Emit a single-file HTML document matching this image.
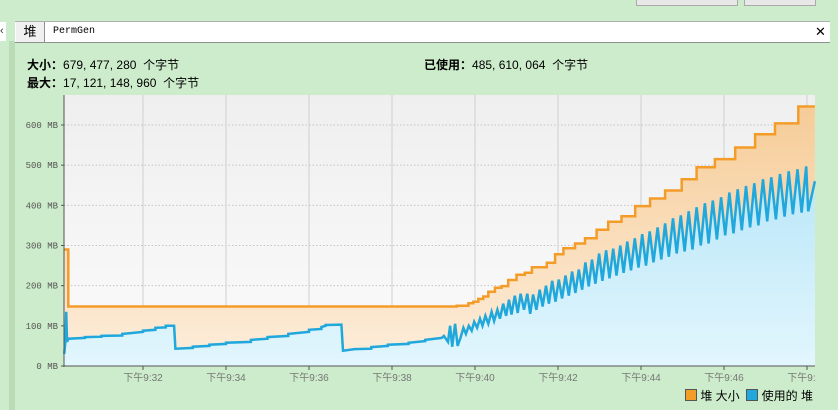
<!DOCTYPE html>
<html><head><meta charset="utf-8"><style>
body{margin:0;width:838px;height:410px;background:#cdeccb;position:relative;overflow:hidden;font-family:"Liberation Sans","Noto Sans CJK SC",sans-serif}
.abs{position:absolute}
</style></head><body>
<div class="abs" style="left:636px;top:0;width:100px;height:5px;background:#e8e8e8;border:1px solid #aaa;border-top:none"></div>
<div class="abs" style="left:744px;top:0;width:70px;height:5px;background:#e8e8e8;border:1px solid #aaa;border-top:none"></div>
<div class="abs" style="left:0;top:22px;width:6px;height:19px;background:#fff;font-size:11px;line-height:19px;color:#333">‹</div>
<div class="abs" style="left:9px;top:41px;width:6px;height:369px;background:#b9dcb6"></div>
<div class="abs" style="left:15px;top:21px;width:815px;height:20px;background:#fff;border-top:1px solid #b0b0b0;border-bottom:1px solid #909090"></div>
<div class="abs" style="left:16px;top:22px;width:28px;height:20px;background:#f0f0f0;border-right:1px solid #909090;font-size:13px;line-height:20px;text-align:center">堆</div>
<div class="abs" style="left:53px;top:22px;font-family:'Liberation Mono',monospace;font-size:10px;line-height:20px">PermGen</div>
<div class="abs" style="left:815px;top:22px;font-size:13px;line-height:20px">✕</div>
<div class="abs" style="left:27px;top:56px;font-size:12px"><b>大小：</b>679, 477, 280 &nbsp;个字节</div>
<div class="abs" style="left:27px;top:74px;font-size:12px"><b>最大：</b>17, 121, 148, 960 &nbsp;个字节</div>
<div class="abs" style="left:424px;top:56px;font-size:12px"><b>已使用：</b>485, 610, 064 &nbsp;个字节</div>
<svg class="abs" style="left:0;top:0" width="838" height="410">
<defs>
<linearGradient id="bg" x1="0" y1="0" x2="0" y2="1"><stop offset="0" stop-color="#efefef"/><stop offset="1" stop-color="#fbfbfb"/></linearGradient>
<linearGradient id="og" x1="0" y1="0" x2="0" y2="1"><stop offset="0" stop-color="#f6cc98"/><stop offset="1" stop-color="#fdeedc"/></linearGradient>
<linearGradient id="bgb" x1="0" y1="0" x2="0" y2="1"><stop offset="0" stop-color="#b8e6f8"/><stop offset="1" stop-color="#e2f6fd"/></linearGradient>
<clipPath id="lc"><rect x="0" y="0" width="816" height="410"/></clipPath>
</defs>
<rect x="64" y="95" width="751" height="271" fill="url(#bg)"/>
<g id="grid"></g><g id="fills"></g><g id="lines"></g><g id="axes" clip-path="url(#lc)"></g>
</svg>
<div class="abs" style="left:685px;top:388px;font-size:12px;line-height:16px">
<span><span style="display:inline-block;width:10px;height:10px;background:#f39c28;border:1px solid #555;vertical-align:-1px"></span> 堆 大小</span>
&nbsp;<span><span style="display:inline-block;width:10px;height:10px;background:#20a8dc;border:1px solid #555;vertical-align:-1px"></span> 使用的 堆</span>
</div>
<script>
const yTicks=[0,100,200,300,400,500,600];
const xTicks=[2,4,6,8,10,12,14,16,18];
const xTickLabels=["下午9:32","下午9:34","下午9:36","下午9:38","下午9:40","下午9:42","下午9:44","下午9:46","下午9:48"];
const heapT=[0.1,0.2,9.56,9.84,9.96,10.08,10.20,10.32,10.48,10.64,10.80,11.00,11.20,11.37,11.73,11.93,12.13,12.41,12.65,12.93,13.21,13.53,13.86,14.22,14.58,14.98,15.34,15.78,16.27,16.75,17.23,17.79,18.19];
const heapV=[290,148,150,156,160,167,173,185,195,199,214,227,232,246,257,278,293,305,318,339,359,373,398,417,437,465,495,515,544,577,604,646,646];
const usedT=[0.1,0.13,0.15,0.17,0.2,0.6,0.6,1.0,1.0,1.5,1.5,2.0,2.0,2.3,2.3,2.55,2.55,2.75,2.78,3.2,3.2,3.6,3.6,4.0,4.0,4.6,4.6,5.0,5.0,5.5,5.5,6.0,6.0,6.3,6.3,6.4,6.4,6.78,6.82,7.1,7.5,7.5,7.9,7.9,8.4,8.4,8.8,8.8,9.2,
9.25,9.35,9.40,9.45,9.52,9.58,9.65,9.72,9.78,9.85,9.92,9.98,10.05,10.12,10.18,10.25,10.32,10.40,10.46,10.54,10.60,10.68,10.75,10.82,10.88,10.96,11.03,11.10,11.18,11.26,11.33,11.40,11.48,11.56,11.63,11.71,11.78,11.86,11.94,12.02,12.10,12.18,12.26,12.34,12.42,12.50,12.58,12.66,12.74,12.82,12.90,12.99,13.07,13.16,13.24,13.33,13.41,13.50,13.58,13.67,13.76,13.85,13.94,14.03,14.12,14.21,14.30,14.40,14.49,14.58,14.67,14.77,14.86,14.96,15.05,15.15,15.24,15.34,15.44,15.54,15.63,15.73,15.83,15.93,16.03,16.13,16.23,16.33,16.43,16.53,16.63,16.73,16.83,16.94,17.04,17.14,17.25,17.35,17.46,17.56,17.66,17.77,17.87,17.98,18.03,18.19];
const usedV=[30,60,135,60,68,70,72,73,75,76,80,85,88,90,95,96,100,100,43,45,48,50,53,55,58,60,65,68,72,75,80,85,90,92,97,100,102,103,38,42,43,47,50,53,55,58,62,65,70,
75,60,100,48,105,50,70,95,80,100,88,110,95,118,100,125,105,135,112,140,118,155,125,165,128,175,132,180,140,180,130,178,140,190,148,200,155,212,160,215,168,225,175,235,182,240,190,258,198,265,205,280,212,288,218,292,225,300,232,310,238,318,245,328,250,335,258,345,265,355,272,368,280,375,285,385,290,395,300,405,305,412,315,420,325,432,330,440,338,448,345,455,350,465,360,470,365,478,372,485,378,490,382,497,385,460];
const X=m=>60+41.5*m, Y=v=>366-v*0.4017;
const NS="http://www.w3.org/2000/svg";
function mk(t,a,p){const e=document.createElementNS(NS,t);for(const k in a)e.setAttribute(k,a[k]);p.appendChild(e);return e;}
const grid=document.getElementById('grid'),fills=document.getElementById('fills'),lines=document.getElementById('lines'),axes=document.getElementById('axes');
yTicks.forEach(v=>{if(v>0){const l=mk('line',{x1:64,x2:815,y1:Y(v),y2:Y(v),stroke:'#c4c4c4','stroke-dasharray':'1.5,2'},grid);

}
const t=mk('text',{x:58,y:Y(v)+3,'text-anchor':'end','font-size':'9','font-family':'Liberation Mono, monospace',fill:'#555'},axes);t.textContent=v+' MB';


mk('line',{x1:61,x2:64,y1:Y(v),y2:Y(v),stroke:'#555'},axes);});
xTicks.forEach((m,i)=>{const l=mk('line',{x1:X(m),x2:X(m),y1:95,y2:366,stroke:'#cfcfcf'},grid);


mk('line',{x1:X(m),x2:X(m),y1:366,y2:370,stroke:'#555'},axes);
const t=mk('text',{x:X(m),y:381,'text-anchor':'middle','font-size':'10','font-family':'Liberation Sans, Noto Sans CJK SC, sans-serif',fill:'#777'},axes);t.textContent=xTickLabels[i];

});
let hp=[];heapT.forEach((m,i)=>{if(i>0)hp.push([X(m),Y(heapV[i-1])]);hp.push([X(m),Y(heapV[i])]);});
const hs=hp.map(p=>p[0].toFixed(1)+','+p[1].toFixed(1)).join(' ');
const up=usedT.map((m,i)=>X(m).toFixed(1)+','+Y(usedV[i]).toFixed(1)).join(' ');
const hf=mk('polygon',{points:X(0.1)+',366 '+hs+' '+X(18.19)+',366',fill:'url(#og)'},fills);


const uf=mk('polygon',{points:X(0.1)+',366 '+up+' '+X(18.19)+',366',fill:'url(#bgb)'},fills);


const hl=mk('polyline',{points:hs,fill:'none',stroke:'#f39c28','stroke-width':2.5},lines);


const ul=mk('polyline',{points:up,fill:'none',stroke:'#20a8dc','stroke-width':2.5},lines);


mk('line',{x1:64,x2:64,y1:95,y2:367,stroke:'#555'},axes);
mk('line',{x1:64,x2:815,y1:366,y2:366,stroke:'#555'},axes);
</script>
</body></html>
